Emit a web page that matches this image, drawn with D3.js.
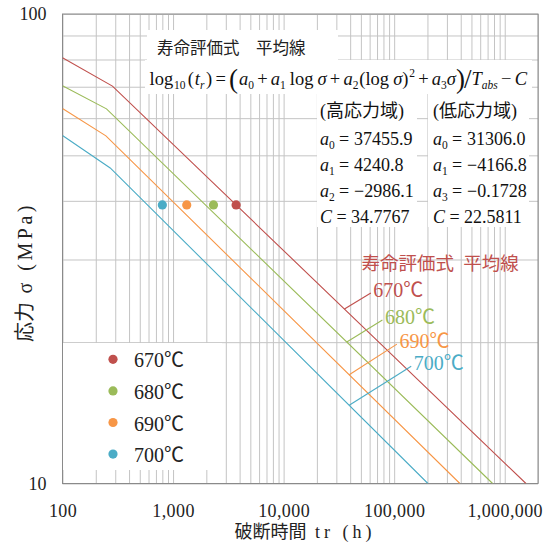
<!DOCTYPE html>
<html>
<head>
<meta charset="utf-8">
<script src="https://cdn.jsdelivr.net/npm/d3@7"></script>
<style>
  html, body { margin: 0; padding: 0; background: #fff; }
  text { font-family: "Liberation Serif", "Noto Sans CJK JP", serif; }
</style>
</head>
<body>
<svg id="chart" width="549" height="545"></svg>
<script>
// ---- series: mean creep-rupture lines per test temperature ----
const seriesNames  = ["670℃", "680℃", "690℃", "700℃"];
const seriesColors = ["#c0504d", "#9bbb59", "#f79646", "#4bacc6"];

// polyline vertices (t in hours, σ in MPa): left edge, high/low-stress break, σ = 10 MPa
const startHours  = [100, 100, 100, 100];
const startStress = [80.7, 70.3, 62.9, 55.1];
const breakHours  = [283, 250, 247, 270];
const breakStress = [70.2, 62.8, 55.0, 47.0];
const endHours    = [1557000, 777000, 393000, 202000];
const endStress   = [10, 10, 10, 10];

// measured rupture points
const testHours  = [3720, 2320, 1330, 800];
const testStress = [39.2, 39.2, 39.2, 39.2];

// where each temperature callout leaves its line (hours)
const calloutHours = [35500, 37300, 39200, 39200];

// axes
const xTickValues = [100, 1000, 10000, 100000, 1000000];
const yTickValues = [10, 100];
const xDomain = [100, 2000000];
const yDomain = [10, 100];

// life-assessment equation constants
const highSubs   = ["0", "1", "2", null];
const highValues = ["37455.9", "4240.8", "−2986.1", "34.7767"];
const lowSubs    = ["0", "1", "3", null];
const lowValues  = ["31306.0", "−4166.8", "−0.1728", "22.5811"];

// ---- layout ----
const W = 549, H = 545;
const plot = { left: 62.5, right: 538, top: 14, bottom: 483.5 };
const svg = d3.select("#chart");
svg.append("rect").attr("width", W).attr("height", H).attr("fill", "#fff");

const x = d3.scaleLog().domain(xDomain).range([plot.left, plot.right]);
const y = d3.scaleLog().domain(yDomain).range([plot.bottom, plot.top]);

// gridlines at every 1..9 per decade
const xGrid = [];
for (let e = 2; e <= 6; e++) for (let k = 1; k <= 9; k++) { const v = k * 10 ** e; if (v <= xDomain[1]) xGrid.push(v); }
const yGrid = d3.range(1, 11).map(k => k * 10);

const gridColor = "#c4c4c4";
svg.append("g")
  .attr("transform", `translate(0,${plot.bottom})`)
  .call(d3.axisBottom(x).tickValues(xGrid).tickSize(-(plot.bottom - plot.top)).tickFormat(""))
  .call(g => g.select(".domain").remove())
  .call(g => g.selectAll("line").attr("stroke", gridColor));
svg.append("g")
  .attr("transform", `translate(${plot.left},0)`)
  .call(d3.axisLeft(y).tickValues(yGrid).tickSize(-(plot.right - plot.left)).tickFormat(""))
  .call(g => g.select(".domain").remove())
  .call(g => g.selectAll("line").attr("stroke", gridColor));

// frame
svg.append("rect")
  .attr("x", plot.left).attr("y", plot.top)
  .attr("width", plot.right - plot.left).attr("height", plot.bottom - plot.top)
  .attr("fill", "none").attr("stroke", "#8a8a8a").attr("stroke-width", 1);

// tick labels
svg.append("g")
  .attr("transform", `translate(0,${plot.bottom})`)
  .call(d3.axisBottom(x).tickValues(xTickValues).tickFormat(d3.format(",")).tickSize(0).tickPadding(21))
  .call(g => g.select(".domain").remove())
  .call(g => g.selectAll("text").attr("font-size", 18).attr("fill", "#222")
    .style("font-family", "'Liberation Serif', serif").attr("letter-spacing", 0.4));
svg.append("g")
  .attr("transform", `translate(${plot.left},0)`)
  .call(d3.axisLeft(y).tickValues(yTickValues).tickFormat(d3.format("d")).tickSize(0).tickPadding(16))
  .call(g => g.select(".domain").remove())
  .call(g => g.selectAll("text").attr("font-size", 18).attr("fill", "#222")
    .style("font-family", "'Liberation Serif', serif"));

// axis titles: CJK set tight, the Latin part spaced out
const xTitle = svg.append("text")
  .attr("x", 305).attr("y", 538).attr("text-anchor", "middle")
  .attr("font-size", 18).attr("fill", "#222");
xTitle.append("tspan").text("破断時間");
xTitle.append("tspan").attr("letter-spacing", 4).text(" tr (h)");

const yTitle = svg.append("text")
  .attr("transform", "translate(32,272) rotate(-90)")
  .attr("text-anchor", "middle")
  .attr("font-size", 20).attr("fill", "#222");
yTitle.append("tspan").text("応力");
yTitle.append("tspan").attr("letter-spacing", 3.5).text(" σ (MPa)");

// ---- mean lines ----
svg.append("clipPath").attr("id", "plot-clip")
  .append("rect").attr("x", plot.left).attr("y", plot.top)
  .attr("width", plot.right - plot.left).attr("height", plot.bottom - plot.top);

const lineData = seriesNames.map((name, i) => ({
  name, color: seriesColors[i],
  pts: [[startHours[i], startStress[i]], [breakHours[i], breakStress[i]], [endHours[i], endStress[i]]]
}));
const line = d3.line().x(d => x(d[0])).y(d => y(d[1]));
svg.append("g").attr("clip-path", "url(#plot-clip)")
  .selectAll("path").data(lineData).join("path")
  .attr("d", d => line(d.pts))
  .attr("fill", "none").attr("stroke", d => d.color).attr("stroke-width", 1.1);

// stress on a series' polyline at a given time (log-log interpolation)
function stressAt(pts, t) {
  for (let k = 0; k < pts.length - 1; k++) {
    const [t0, s0] = pts[k], [t1, s1] = pts[k + 1];
    if (t >= t0 && t <= t1) {
      const f = (Math.log(t) - Math.log(t0)) / (Math.log(t1) - Math.log(t0));
      return Math.exp(Math.log(s0) + f * (Math.log(s1) - Math.log(s0)));
    }
  }
  return pts[pts.length - 1][1];
}

// ---- callouts ----
const calloutReach = [[26.4, -16], [35.6, -22], [47.7, -30.7], [62, -39]];
const callouts = svg.append("g");
lineData.forEach((d, i) => {
  const px = x(calloutHours[i]), py = y(stressAt(d.pts, calloutHours[i]));
  const ex = px + calloutReach[i][0], ey = py + calloutReach[i][1];
  callouts.append("line").attr("x1", px).attr("y1", py).attr("x2", ex).attr("y2", ey)
    .attr("stroke", d.color).attr("stroke-width", 1.1);
  callouts.append("text").attr("x", ex + 2.5).attr("y", ey + 3.5)
    .attr("font-size", 20).attr("fill", d.color).text(d.name);
});
svg.append("text").attr("x", 361.5).attr("y", 270)
  .attr("font-size", 18.5).attr("fill", "#c0504d")
  .text("寿命評価式\u2002平均線");

// ---- measured points ----
svg.append("g").selectAll("circle").data(seriesNames).join("circle")
  .attr("cx", (d, i) => x(testHours[i])).attr("cy", (d, i) => y(testStress[i]))
  .attr("r", 4.6).attr("fill", (d, i) => seriesColors[i]);

// ---- legend ----
const legend = svg.append("g");
legend.append("rect").attr("x", 63).attr("y", 343).attr("width", 159).attr("height", 127).attr("fill", "#fff");
seriesNames.forEach((name, i) => {
  const cy = 359.3 + i * 31.6;
  legend.append("circle").attr("cx", 113).attr("cy", cy).attr("r", 4.6).attr("fill", seriesColors[i]);
  legend.append("text").attr("x", 134).attr("y", cy + 8).attr("font-size", 20).attr("fill", "#222").text(name);
});

// ---- equation panel ----
const eq = svg.append("g");
eq.append("rect").attr("x", 147).attr("y", 30).attr("width", 191).attr("height", 31).attr("fill", "#fff");
eq.append("rect").attr("x", 145).attr("y", 60).attr("width", 387).attr("height", 34).attr("fill", "#fff");
eq.append("rect").attr("x", 317).attr("y", 93).attr("width", 100).attr("height", 134).attr("fill", "#fff");
eq.append("rect").attr("x", 428).attr("y", 93).attr("width", 101).attr("height", 134).attr("fill", "#fff");

eq.append("text").attr("x", 157).attr("y", 54).attr("font-size", 16.5).attr("fill", "#222")
  .text("寿命評価式\u3000平均線");

function put(g, px, py, s, size, italic) {
  return g.append("text").attr("x", px).attr("y", py).attr("font-size", size)
    .attr("font-style", italic ? "italic" : "normal").attr("fill", "#111").text(s);
}

// equation laid out piece by piece: [text, size, italic, baseline shift, gap before]
const es = 18.5, sub = 11.5;
const pieces = [
  ["log", es, false, 0, 0], ["10", sub, false, 4.5, 0.5],
  ["(", es, false, 0, 1.5], ["t", es, true, 0, 0.5], ["r", sub, true, 4.5, 0], [")", es, false, 0, 1],
  ["=", es, false, 0, 2],
  ["(", 27, false, 3, 2],
  ["a", es, true, 0, 0.5], ["0", sub, false, 4.5, 0], ["+", es, false, 0, 2],
  ["a", es, true, 0, 2], ["1", sub, false, 4.5, 0], ["log", es, false, 0, 2.5],
  ["σ", es, true, 0, 2.5], ["+", es, false, 0, 2],
  ["a", es, true, 0, 2], ["2", sub, false, 4.5, 0], ["(", es, false, 0, 0.5],
  ["log", es, false, 0, 0], ["σ", es, true, 0, 2.5], [")", es, false, 0, 0],
  ["2", sub, false, -8, 0.5], ["+", es, false, 0, 2],
  ["a", es, true, 0, 2], ["3", sub, false, 4.5, 0], ["σ", es, true, 0, 0],
  [")", 27, false, 3, 0], ["/", 27, false, 3, -1],
  ["T", es, true, 0, 0], ["abs", sub, true, 4.5, 0],
  ["−", es, false, 0, 2], ["C", es, true, 0, 2]
];
const eqLeft = 149.5, eqRight = 527, eqBase = 84.5;
const nodes = pieces.map(p => put(eq, 0, eqBase + p[3], p[0], p[1], p[2]));
const widths = nodes.map(n => n.node().getComputedTextLength());
const natural = d3.sum(widths) + d3.sum(pieces, p => p[4]);
const gapTotal = d3.sum(pieces, p => Math.max(p[4], 0));
const stretch = gapTotal > 0 ? (eqRight - eqLeft - natural) / gapTotal : 0;
let cursor = eqLeft;
nodes.forEach((n, i) => {
  const g = pieces[i][4];
  cursor += g + (g > 0 ? g * stretch : 0);
  n.attr("x", cursor);
  cursor += widths[i];
});

// parameter columns
const ps = 18;
function paramColumn(colX, header, subs, values) {
  put(eq, colX, 116.5, header, ps, false);
  subs.forEach((s, i) => {
    const by = 145 + i * 26;
    if (s !== null) {
      put(eq, colX, by, "a", ps, true);
      put(eq, colX + 9, by + 4, s, 11.5, false);
      put(eq, colX + 19, by, "=", ps, false);
      put(eq, colX + 34, by, values[i], ps, false);
    } else {
      put(eq, colX, by, "C", ps, true);
      put(eq, colX + 16.5, by, "=", ps, false);
      put(eq, colX + 31, by, values[i], ps, false);
    }
  });
}
paramColumn(320, "(高応力域)", highSubs, highValues);
paramColumn(433, "(低応力域)", lowSubs, lowValues);
</script>
</body>
</html>
